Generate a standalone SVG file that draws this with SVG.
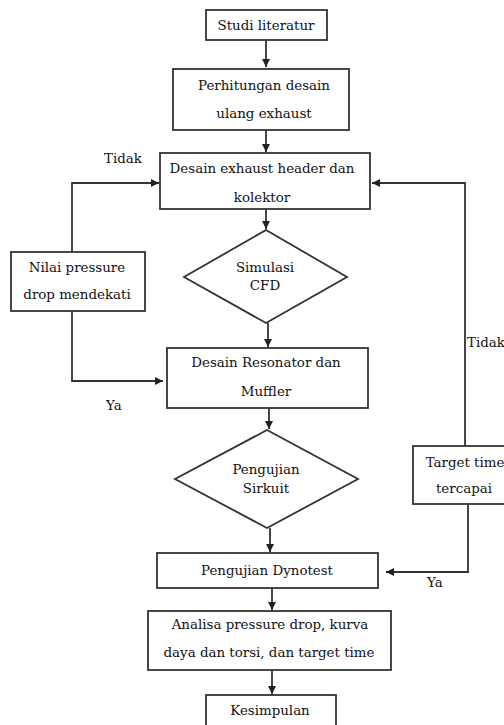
<svg xmlns="http://www.w3.org/2000/svg" width="504" height="725" viewBox="0 0 504 725">
<defs>
<marker id="ah" viewBox="0 0 10 10" refX="10" refY="5" markerWidth="8" markerHeight="8" markerUnits="userSpaceOnUse" orient="auto">
<path d="M0,0 L10,5 L0,10 z" fill="#222"/>
</marker>
<style>
.box{fill:#fff;stroke:#333;stroke-width:1.8}
.t{font-family:"DejaVu Serif","Liberation Serif",serif;font-size:13.4px;fill:#111;text-anchor:middle}
.l{font-family:"DejaVu Serif","Liberation Serif",serif;font-size:13.4px;fill:#111}
.c{fill:none;stroke:#333;stroke-width:1.8}
</style>
</defs>
<rect width="504" height="725" fill="#fff"/>
<g id="connectors">
<path class="c" d="M266,40 V67" marker-end="url(#ah)"/>
<path class="c" d="M266,130 V152" marker-end="url(#ah)"/>
<path class="c" d="M266,209 V229" marker-end="url(#ah)"/>
<path class="c" d="M268,323 V347" marker-end="url(#ah)"/>
<path class="c" d="M269,408 V429" marker-end="url(#ah)"/>
<path class="c" d="M270,528 V552" marker-end="url(#ah)"/>
<path class="c" d="M272,588 V610" marker-end="url(#ah)"/>
<path class="c" d="M272,670 V694" marker-end="url(#ah)"/>
<path class="c" d="M72,252 V183 H159" marker-end="url(#ah)"/>
<path class="c" d="M72,311 V381 H163" marker-end="url(#ah)"/>
<path class="c" d="M465,446 V183 H372" marker-end="url(#ah)"/>
<path class="c" d="M468,504 V572 H386" marker-end="url(#ah)"/>
<text class="l" x="104" y="163">Tidak</text>
<text class="l" x="106" y="410">Ya</text>
<text class="l" x="467" y="347">Tidak</text>
<text class="l" x="427" y="587">Ya</text>
</g>
<g id="studi">
<rect class="box" x="206" y="10" width="121" height="30"/>
<text class="t" x="266" y="30">Studi literatur</text>
</g>
<g id="perhitungan">
<rect class="box" x="173" y="69" width="176" height="61"/>
<text class="t" x="264" y="90">Perhitungan desain</text>
<text class="t" x="264" y="118">ulang exhaust</text>
</g>
<g id="desain-header">
<rect class="box" x="160" y="153" width="210" height="56"/>
<text class="t" x="262" y="173">Desain exhaust header dan</text>
<text class="t" x="262" y="202">kolektor</text>
</g>
<g id="simulasi">
<polygon class="box" points="266,230 347,277 266,323 184,277"/>
<text class="t" x="265" y="272">Simulasi</text>
<text class="t" x="265" y="290">CFD</text>
</g>
<g id="nilai">
<rect class="box" x="11" y="252" width="134" height="59"/>
<text class="t" x="77" y="272">Nilai pressure</text>
<text class="t" x="77" y="299">drop mendekati</text>
</g>
<g id="resonator">
<rect class="box" x="167" y="348" width="201" height="60"/>
<text class="t" x="266" y="367">Desain Resonator dan</text>
<text class="t" x="266" y="396">Muffler</text>
</g>
<g id="sirkuit">
<polygon class="box" points="267,430 358,479 267,528 175,479"/>
<text class="t" x="266" y="474">Pengujian</text>
<text class="t" x="266" y="493">Sirkuit</text>
</g>
<g id="target">
<rect class="box" x="413" y="446" width="95" height="58"/>
<text class="t" x="465" y="467">Target time</text>
<text class="t" x="464" y="493">tercapai</text>
</g>
<g id="dynotest">
<rect class="box" x="157" y="553" width="221" height="35"/>
<text class="t" x="267" y="575">Pengujian Dynotest</text>
</g>
<g id="analisa">
<rect class="box" x="148" y="611" width="243" height="59"/>
<text class="t" x="270" y="629">Analisa pressure drop, kurva</text>
<text class="t" x="269" y="657">daya dan torsi, dan target time</text>
</g>
<g id="kesimpulan">
<rect class="box" x="206" y="695" width="130" height="40"/>
<text class="t" x="270" y="715">Kesimpulan</text>
</g>
</svg>
